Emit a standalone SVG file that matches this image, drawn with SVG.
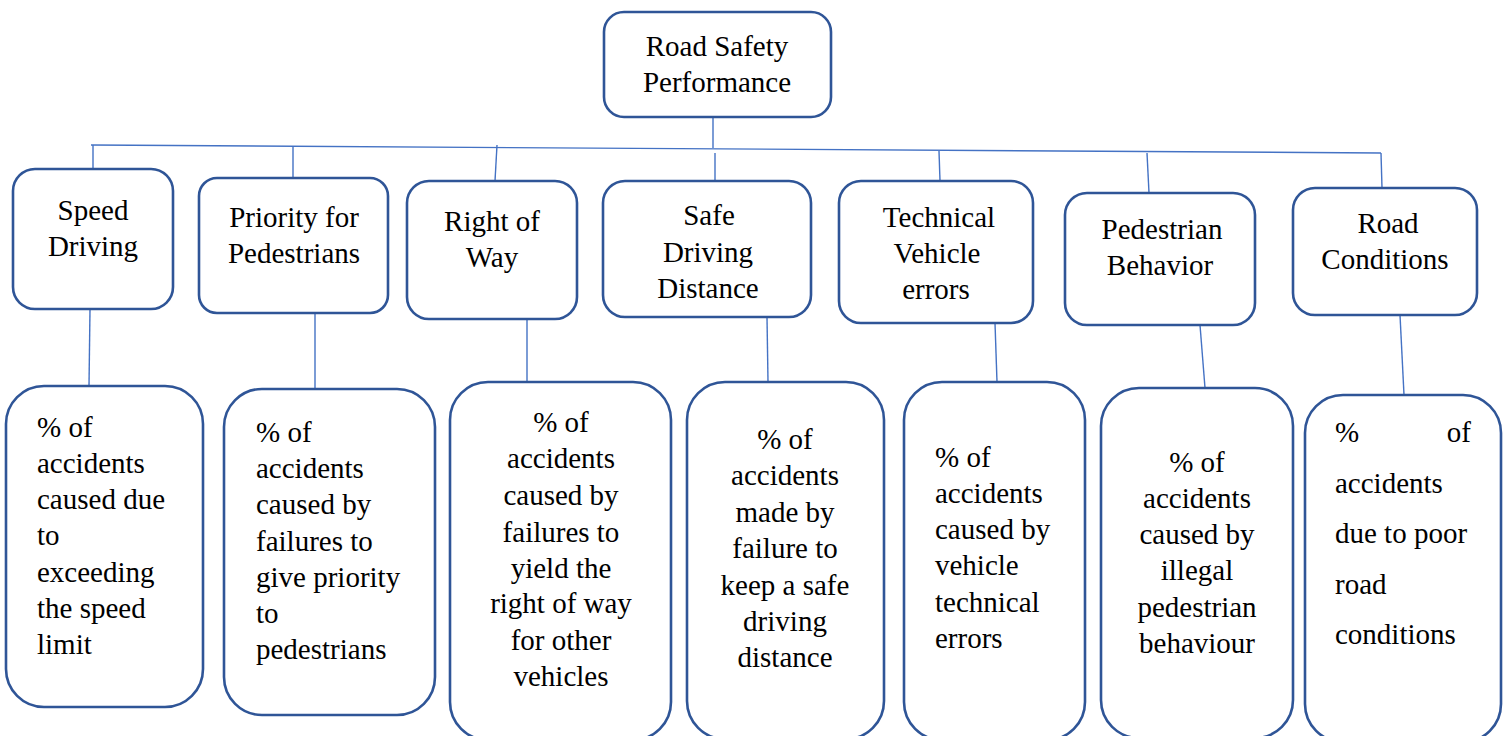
<svg xmlns="http://www.w3.org/2000/svg" width="1507" height="736" viewBox="0 0 1507 736">
<style>
.box{fill:#ffffff;stroke:#2F5597;stroke-width:2.6}
.ln{stroke:#4472C4;stroke-width:1.4;fill:none}
.t{font-family:'Liberation Serif','DejaVu Serif',serif;font-size:29px;fill:#000000}
.c{text-anchor:middle}
.e{text-anchor:end}
</style>
<rect width="1507" height="736" fill="#ffffff"/>
<g id="connectors">
<line class="ln" x1="713" y1="117" x2="713" y2="148"/>
<line class="ln" x1="91" y1="145" x2="1381" y2="153"/>
<line class="ln" x1="93" y1="145" x2="93" y2="169"/>
<line class="ln" x1="293" y1="146" x2="293" y2="178"/>
<line class="ln" x1="497" y1="145" x2="495" y2="181"/>
<line class="ln" x1="715" y1="153" x2="715" y2="181"/>
<line class="ln" x1="939" y1="151" x2="940" y2="181"/>
<line class="ln" x1="1147" y1="153" x2="1149" y2="193"/>
<line class="ln" x1="1381" y1="153" x2="1382" y2="188"/>
<line class="ln" x1="90" y1="309" x2="89" y2="386"/>
<line class="ln" x1="315" y1="313" x2="315" y2="389"/>
<line class="ln" x1="527" y1="319" x2="527" y2="382"/>
<line class="ln" x1="767" y1="317" x2="768" y2="382"/>
<line class="ln" x1="995" y1="323" x2="997" y2="382"/>
<line class="ln" x1="1200" y1="325" x2="1205" y2="388"/>
<line class="ln" x1="1400" y1="315" x2="1404" y2="395"/>
</g>
<g class="t" font-family="Liberation Serif, serif">
<g id="root">
<rect class="box" x="604" y="12" width="227" height="105" rx="20"/>
<text class="c" x="717" y="56">Road Safety</text>
<text class="c" x="717" y="92">Performance</text>
</g>
<g id="speed">
<rect class="box" x="13" y="169" width="160" height="140" rx="22"/>
<text class="c" x="93" y="220">Speed</text>
<text class="c" x="93" y="256">Driving</text>
</g>
<g id="priority">
<rect class="box" x="199" y="178" width="189" height="135" rx="18"/>
<text class="c" x="294" y="227">Priority for</text>
<text class="c" x="294" y="263">Pedestrians</text>
</g>
<g id="rightofway">
<rect class="box" x="407" y="181" width="170" height="138" rx="22"/>
<text class="c" x="492" y="231">Right of</text>
<text class="c" x="492" y="267">Way</text>
</g>
<g id="safedist">
<rect class="box" x="603" y="181" width="208" height="136" rx="22"/>
<text class="c" x="709" y="225">Safe</text>
<text class="c" x="708" y="262">Driving</text>
<text class="c" x="708" y="298">Distance</text>
</g>
<g id="technical">
<rect class="box" x="839" y="181" width="194" height="142" rx="22"/>
<text class="c" x="939" y="227">Technical</text>
<text class="c" x="937" y="263">Vehicle</text>
<text class="c" x="936" y="299">errors</text>
</g>
<g id="pedbehavior">
<rect class="box" x="1065" y="193" width="190" height="132" rx="22"/>
<text class="c" x="1162" y="239">Pedestrian</text>
<text class="c" x="1160" y="275">Behavior</text>
</g>
<g id="roadcond">
<rect class="box" x="1293" y="188" width="184" height="127" rx="22"/>
<text class="c" x="1388" y="233">Road</text>
<text class="c" x="1385" y="269">Conditions</text>
</g>
<g id="m-speed">
<rect class="box" x="6" y="386" width="197" height="321" rx="38"/>
<text x="37" y="437">% of</text>
<text x="37" y="473">accidents</text>
<text x="37" y="509">caused due</text>
<text x="37" y="545">to</text>
<text x="37" y="582">exceeding</text>
<text x="37" y="618">the speed</text>
<text x="37" y="654">limit</text>
</g>
<g id="m-priority">
<rect class="box" x="224" y="389" width="211" height="326" rx="38"/>
<text x="256" y="442">% of</text>
<text x="256" y="478">accidents</text>
<text x="256" y="514">caused by</text>
<text x="256" y="551">failures to</text>
<text x="256" y="587">give priority</text>
<text x="256" y="623">to</text>
<text x="256" y="659">pedestrians</text>
</g>
<g id="m-rightofway">
<rect class="box" x="450" y="382" width="221" height="358" rx="38"/>
<text class="c" x="561" y="432">% of</text>
<text class="c" x="561" y="468">accidents</text>
<text class="c" x="561" y="505">caused by</text>
<text class="c" x="561" y="542">failures to</text>
<text class="c" x="561" y="578">yield the</text>
<text class="c" x="561" y="613">right of way</text>
<text class="c" x="561" y="650">for other</text>
<text class="c" x="561" y="686">vehicles</text>
</g>
<g id="m-safedist">
<rect class="box" x="687" y="382" width="197" height="357" rx="38"/>
<text class="c" x="785" y="449">% of</text>
<text class="c" x="785" y="485">accidents</text>
<text class="c" x="785" y="522">made by</text>
<text class="c" x="785" y="558">failure to</text>
<text class="c" x="785" y="595">keep a safe</text>
<text class="c" x="785" y="631">driving</text>
<text class="c" x="785" y="667">distance</text>
</g>
<g id="m-technical">
<rect class="box" x="904" y="382" width="181" height="358" rx="38"/>
<text x="935" y="467">% of</text>
<text x="935" y="503">accidents</text>
<text x="935" y="539">caused by</text>
<text x="935" y="575">vehicle</text>
<text x="935" y="612">technical</text>
<text x="935" y="648">errors</text>
</g>
<g id="m-pedbehavior">
<rect class="box" x="1101" y="388" width="192" height="350" rx="38"/>
<text class="c" x="1197" y="472">% of</text>
<text class="c" x="1197" y="508">accidents</text>
<text class="c" x="1197" y="544">caused by</text>
<text class="c" x="1197" y="580">illegal</text>
<text class="c" x="1197" y="617">pedestrian</text>
<text class="c" x="1197" y="653">behaviour</text>
</g>
<g id="m-roadcond">
<rect class="box" x="1305" y="395" width="196" height="347" rx="38"/>
<text x="1335" y="442">%</text>
<text class="e" x="1471" y="442">of</text>
<text x="1335" y="493">accidents</text>
<text x="1335" y="543">due to poor</text>
<text x="1335" y="594">road</text>
<text x="1335" y="644">conditions</text>
</g>
</g>
</svg>
